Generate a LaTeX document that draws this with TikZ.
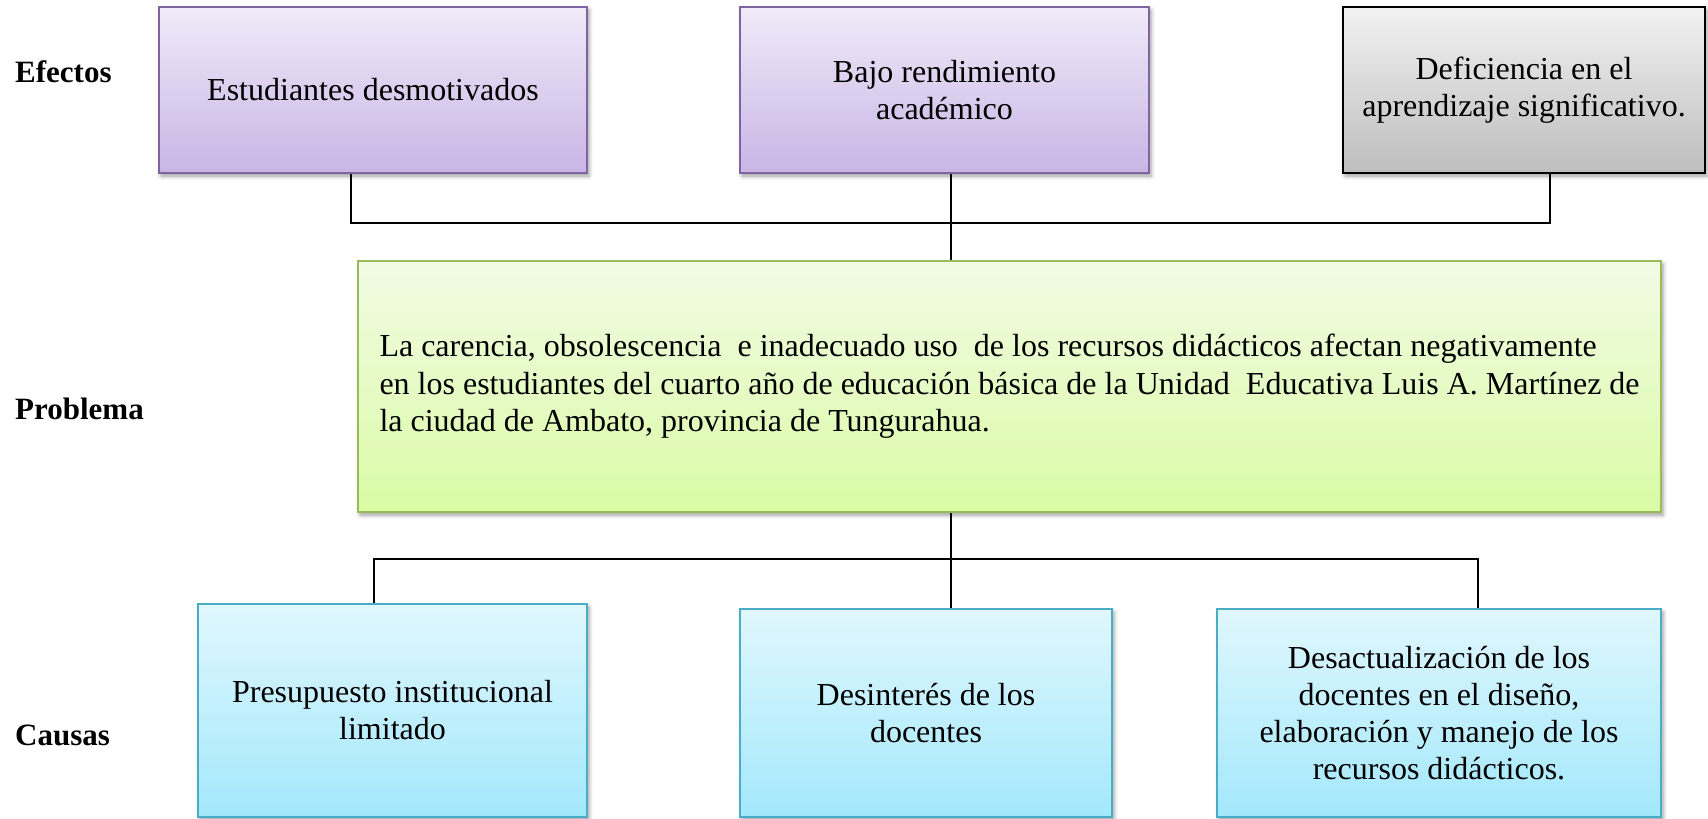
\documentclass[tikz,border=0pt]{standalone}
\usepackage{fontspec}
\setmainfont{Liberation Serif}
\usetikzlibrary{shadows,shadows.blur}
\definecolor{purpleborder}{HTML}{8064A2}
\definecolor{purpletop}{HTML}{F0EAF8}
\definecolor{purplebot}{HTML}{C8B5E5}
\definecolor{greyborder}{HTML}{000000}
\definecolor{greytop}{HTML}{F2F2F2}
\definecolor{greybot}{HTML}{BDBDBD}
\definecolor{greenborder}{HTML}{9BBB59}
\definecolor{greentop}{HTML}{F1FBE4}
\definecolor{greenbot}{HTML}{DAFBA5}
\definecolor{blueborder}{HTML}{4BACC6}
\definecolor{bluetop}{HTML}{E0F7FD}
\definecolor{bluebot}{HTML}{A3E8FC}
\tikzset{
  basebox/.style={rectangle, inner sep=0pt, line width=2pt,
    blur shadow={shadow xshift=2pt, shadow yshift=-3pt, shadow blur radius=4pt, shadow opacity=40},
    font=\fontsize{32}{37}\selectfont, align=center},
  effbox/.style={basebox, draw=purpleborder, top color=purpletop, bottom color=purplebot},
  greybox/.style={basebox, draw=greyborder, top color=greytop, bottom color=greybot},
  probbox/.style={basebox, draw=greenborder, top color=greentop, bottom color=greenbot, align=left,
    font=\fontsize{32}{37.5}\selectfont},
  causebox/.style={basebox, draw=blueborder, top color=bluetop, bottom color=bluebot},
  rowlabel/.style={anchor=base west, inner sep=0pt, font=\fontsize{31}{36}\selectfont\bfseries},
  conn/.style={draw=black, line width=2pt}
}
\begin{document}
\begin{tikzpicture}[x=1pt, y=-1pt]
\useasboundingbox (0,0) rectangle (1708,819);

\node[rowlabel] (lefec) at (15,82) {Efectos};
\node[rowlabel] (lprob) at (15,419) {Problema};
\node[rowlabel] (lcaus) at (15,745) {Causas};

\node[effbox, minimum width=428pt, minimum height=166pt] (b1) at (373,90) {Estudiantes desmotivados};
\node[effbox, minimum width=409pt, minimum height=166pt] (b2) at (944.5,90) {Bajo rendimiento\\acad\'emico};
\node[greybox, minimum width=362pt, minimum height=166pt] (b3) at (1524,90) {Deficiencia en el\\aprendizaje significativo.};

\node[probbox, minimum width=1303pt, minimum height=251pt] (g) at (1009.5,386.5) {La carencia, obsolescencia\ \ e inadecuado uso\ \ de los recursos did\'acticos afectan negativamente\\en los estudiantes del cuarto a\~no de educaci\'on b\'asica de la Unidad\ \ Educativa Luis A. Mart\'inez de\\la ciudad de Ambato, provincia de Tungurahua.};

\node[causebox, minimum width=389pt, minimum height=213pt] (b4) at (392.5,710.5) {Presupuesto institucional\\limitado};
\node[causebox, minimum width=372pt, minimum height=208pt] (b5) at (926,713) {Desinter\'es de los\\docentes};
\node[causebox, minimum width=444pt, minimum height=208pt] (b6) at (1439,713) {Desactualizaci\'on de los\\docentes en el dise\~no,\\elaboraci\'on y manejo de los\\recursos did\'acticos.};

\coordinate (j1) at (351,223);
\coordinate (j3) at (1550,223);
\coordinate (mid) at (951,0);
\coordinate (k4) at (374,559);
\coordinate (k6) at (1478,559);

\draw[conn] (b1.south -| j1) -- (j1) -- (j3) -- (b3.south -| j3);
\draw[conn] (b2.south -| mid) -- (g.north -| mid);
\draw[conn] (g.south -| mid) -- (b5.north -| mid);
\draw[conn] (b4.north -| k4) -- (k4) -- (k6) -- (b6.north -| k6);
\end{tikzpicture}
\end{document}
